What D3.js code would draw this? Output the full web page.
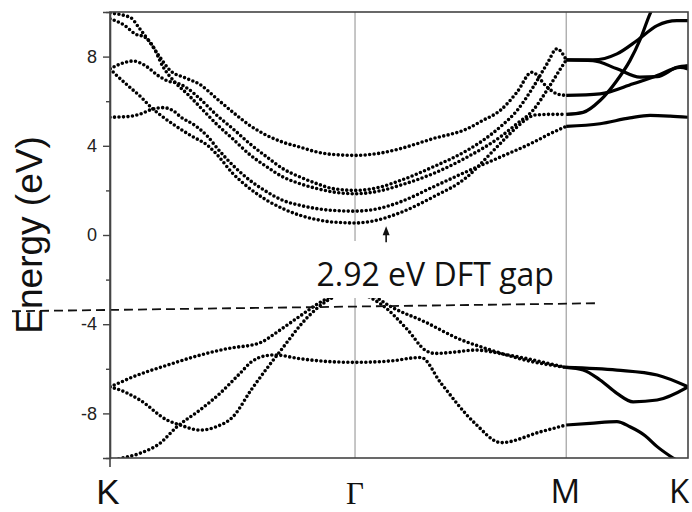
<!DOCTYPE html>
<html>
<head>
<meta charset="utf-8">
<script src="https://cdn.jsdelivr.net/npm/d3@7"></script>
<style>
  body { margin: 0; background: #fff; }
  svg { display: block; }
</style>
</head>
<body>
<div id="chart"></div>
<script>
// high-symmetry points along the k-path
const symLabels = ["K", "Γ", "M", "K"];
const symK = [0, 1, 1.862, 2.359];

// energy ticks (eV)
const yMajor = [-8, -4, 0, 4, 8];
const yMinor = [-10, -6, -2, 2, 6, 10];

// bands along K -> Γ -> M, [k, E] (dotted)
const c5 = [[0,9.95],[0.082,9.76],[0.122,9.24],[0.163,8.64],[0.204,7.97],[0.245,7.38],[0.306,7.05],[0.367,6.75],[0.437,6.1],[0.502,5.5],[0.571,4.91],[0.641,4.46],[0.706,4.16],[0.776,3.94],[0.845,3.72],[0.910,3.61],[1,3.57],[1.102,3.67],[1.184,3.87],[1.318,4.32],[1.457,4.76],[1.522,5.14],[1.592,5.58],[1.661,6.4],[1.722,7.3],[1.784,6.63],[1.824,6.33],[1.862,6.26]];
const c4 = [[0,7.45],[0.045,7.68],[0.094,7.8],[0.143,7.6],[0.196,7.15],[0.237,6.9],[0.278,6.8],[0.318,6.56],[0.367,6.11],[0.437,5.36],[0.502,4.76],[0.571,4.09],[0.641,3.49],[0.706,2.97],[0.776,2.6],[0.845,2.3],[0.910,2.08],[1,2.0],[1.102,2.15],[1.184,2.44],[1.318,3.05],[1.457,3.79],[1.522,4.24],[1.592,4.84],[1.661,5.58],[1.727,6.63],[1.784,7.68],[1.824,8.35],[1.862,7.85]];
const c3 = [[0,9.7],[0.061,9.39],[0.102,9.02],[0.143,8.87],[0.176,8.45],[0.216,7.55],[0.265,6.85],[0.318,6.3],[0.371,5.7],[0.437,4.95],[0.502,4.3],[0.571,3.6],[0.641,3.05],[0.706,2.6],[0.776,2.3],[0.845,2.08],[0.910,1.93],[1,1.85],[1.102,1.98],[1.184,2.23],[1.318,2.75],[1.457,3.49],[1.592,4.39],[1.661,4.99],[1.727,5.6],[1.784,6.5],[1.824,7.2],[1.862,7.85]];
const c2 = [[0,5.28],[0.073,5.31],[0.127,5.44],[0.167,5.62],[0.216,5.71],[0.257,5.58],[0.290,5.28],[0.347,4.91],[0.4,4.4],[0.437,3.9],[0.502,3.12],[0.571,2.45],[0.641,1.93],[0.706,1.55],[0.776,1.33],[0.845,1.18],[0.910,1.1],[1,1.07],[1.102,1.2],[1.184,1.48],[1.318,2.15],[1.457,2.85],[1.592,3.49],[1.727,4.15],[1.796,4.54],[1.862,4.87]];
const c1 = [[0,7.45],[0.020,7.23],[0.073,6.7],[0.127,6.18],[0.167,5.73],[0.208,5.36],[0.265,4.91],[0.331,4.45],[0.4,4.0],[0.437,3.6],[0.502,2.75],[0.571,2.08],[0.641,1.55],[0.706,1.18],[0.776,0.88],[0.845,0.69],[0.910,0.58],[1,0.54],[1.061,0.6],[1.127,0.78],[1.184,1.0],[1.318,1.7],[1.457,2.6],[1.539,3.49],[1.592,4.09],[1.661,4.84],[1.702,5.21],[1.735,5.38],[1.796,5.41],[1.862,5.41]];
const v1 = [[0,-6.8],[0.012,-6.75],[0.094,-6.36],[0.233,-5.84],[0.367,-5.39],[0.502,-5.05],[0.576,-4.94],[0.620,-4.8],[0.673,-4.42],[0.780,-3.6],[0.861,-3.0],[0.939,-2.6],[1,-2.5],[1.061,-2.65],[1.147,-3.22],[1.286,-3.9],[1.420,-4.64],[1.555,-5.16],[1.694,-5.61],[1.862,-5.94]];
const v2 = [[0,-6.82],[0.012,-6.85],[0.122,-7.4],[0.233,-8.3],[0.286,-8.52],[0.367,-8.75],[0.433,-8.6],[0.502,-8.15],[0.576,-6.95],[0.698,-5.16],[0.808,-3.67],[0.890,-2.92],[0.959,-2.6],[1,-2.5],[1.061,-2.8],[1.106,-3.1],[1.216,-4.27],[1.286,-5.16],[1.327,-5.31],[1.408,-5.25],[1.490,-5.16],[1.624,-5.38],[1.862,-5.94]];
const v3 = [[0,-10.15],[0.033,-10.05],[0.122,-9.79],[0.204,-9.34],[0.273,-8.6],[0.367,-7.85],[0.449,-7.1],[0.531,-6.2],[0.576,-5.7],[0.633,-5.42],[0.673,-5.38],[0.776,-5.55],[0.898,-5.68],[1,-5.71],[1.143,-5.65],[1.269,-5.49],[1.351,-6.65],[1.490,-8.45],[1.596,-9.31],[1.759,-8.82],[1.862,-8.52]];

// bands along M -> K (dense points, look solid)
const n1 = [[1.862,4.87],[2.0,4.99],[2.122,5.25],[2.204,5.36],[2.286,5.33],[2.359,5.28]];
const n2 = [[1.862,5.41],[1.931,5.5],[2.0,6.03],[2.069,6.93],[2.122,7.82],[2.163,8.75],[2.204,9.92],[2.245,10.8]];
const n3 = [[1.862,6.26],[2.0,6.33],[2.135,6.78],[2.233,7.15],[2.327,7.52],[2.359,7.45]];
const n4 = [[1.862,7.85],[1.971,7.85],[2.069,8.12],[2.151,8.72],[2.233,9.39],[2.314,9.61],[2.359,9.61]];
const n5 = [[1.862,7.85],[1.971,7.82],[2.069,7.45],[2.163,7.08],[2.233,7.1],[2.314,7.52],[2.359,7.6]];
const m1 = [[1.862,-5.94],[2.069,-6.06],[2.233,-6.28],[2.359,-6.81]];
const m2 = [[1.862,-5.94],[1.931,-6.05],[2.0,-6.5],[2.069,-7.1],[2.135,-7.48],[2.233,-7.4],[2.359,-6.81]];
const m3 = [[1.862,-8.52],[1.959,-8.45],[2.069,-8.37],[2.122,-8.6],[2.184,-9.0],[2.233,-9.49],[2.298,-10.0],[2.327,-10.2]];

const dottedBands = [c1, c2, c3, c4, c5, v1, v2, v3];
const solidBands = [n1, n2, n3, n4, n5, m1, m2, m3];

// annotation
const gapText = "2.92 eV DFT gap";
const gapLine = [[-0.4, -3.42], [1.988, -3.06]];
const arrowK = 1.127;
const arrowE = [-0.33, 0.39];

const W = 692, H = 512;
const margin = {top: 12, right: 4, bottom: 54, left: 110};

const svg = d3.select("#chart").append("svg")
    .attr("width", W)
    .attr("height", H);

const x = d3.scaleLinear().domain([symK[0], symK[3]]).range([margin.left, W - margin.right]);
const y = d3.scaleLinear().domain([-10, 10]).range([H - margin.bottom, margin.top]);

svg.append("clipPath").attr("id", "plotClip")
    .append("rect")
    .attr("x", x(symK[0])).attr("y", y(10))
    .attr("width", x(symK[3]) - x(symK[0]))
    .attr("height", y(-10) - y(10));

// Γ and M separators
svg.selectAll(".sep")
    .data(symK.slice(1, 3))
    .enter()
    .append("line")
        .attr("class", "sep")
        .attr("x1", d => x(d)).attr("x2", d => x(d))
        .attr("y1", y(10)).attr("y2", y(-10))
        .style("stroke", "#a0a0a0")
        .style("stroke-width", 1.2);

const line = d3.line()
    .x(d => x(d[0]))
    .y(d => y(d[1]))
    .curve(d3.curveMonotoneX);

const bands = svg.append("g").attr("clip-path", "url(#plotClip)");

bands.selectAll(".dotted")
    .data(dottedBands)
    .enter()
    .append("path")
        .attr("class", "dotted")
        .attr("d", line)
        .style("fill", "none")
        .style("stroke", "#000")
        .style("stroke-width", 3.6)
        .style("stroke-linecap", "round")
        .style("stroke-dasharray", "0 4.5");

bands.selectAll(".solid")
    .data(solidBands)
    .enter()
    .append("path")
        .attr("class", "solid")
        .attr("d", line)
        .style("fill", "none")
        .style("stroke", "#000")
        .style("stroke-width", 3.2);

// gap label with white box behind it
const gapG = svg.append("g");
const gapBox = gapG.append("rect").style("fill", "#fff");
const gapLabel = gapG.append("text")
    .attr("x", 316.5)
    .attr("y", 286)
    .style("font-family", "'Open Sans', sans-serif")
    .style("font-size", "32px")
    .style("fill", "#111")
    .text(gapText);
const bb = gapLabel.node().getBBox();
gapBox
    .attr("x", bb.x - 8)
    .attr("y", bb.y - 11)
    .attr("width", bb.width + 12)
    .attr("height", bb.height + 14);

// arrow to the band edge
svg.append("line")
    .attr("x1", x(arrowK)).attr("x2", x(arrowK))
    .attr("y1", y(arrowE[0])).attr("y2", y(arrowE[1]) + 6)
    .style("stroke", "#111")
    .style("stroke-width", 1.6);
svg.append("path")
    .attr("d", d3.line()([
        [x(arrowK), y(arrowE[1])],
        [x(arrowK) - 3.5, y(arrowE[1]) + 9],
        [x(arrowK) + 3.5, y(arrowE[1]) + 9]
    ]) + "Z")
    .style("fill", "#111");

// dashed line at the valence band edge
svg.append("line")
    .attr("x1", x(gapLine[0][0])).attr("y1", y(gapLine[0][1]))
    .attr("x2", x(gapLine[1][0])).attr("y2", y(gapLine[1][1]))
    .style("stroke", "#111")
    .style("stroke-width", 1.8)
    .style("stroke-dasharray", "9 5");

// frame
svg.append("rect")
    .attr("x", x(symK[0])).attr("y", y(10))
    .attr("width", x(symK[3]) - x(symK[0]))
    .attr("height", y(-10) - y(10))
    .style("fill", "none")
    .style("stroke", "#444")
    .style("stroke-width", 1.6);

// y axis
const yAxis = svg.append("g")
    .attr("transform", `translate(${margin.left},0)`)
    .call(d3.axisLeft(y).tickValues(yMajor).tickSize(7).tickPadding(6).tickFormat(d3.format("d")));
yAxis.select(".domain").style("stroke", "#444").style("stroke-width", 1.6);
yAxis.selectAll(".tick line").style("stroke", "#444").style("stroke-width", 1.4);
yAxis.selectAll("text")
    .style("font-family", "'Liberation Sans', Arial, sans-serif")
    .style("font-size", "18px")
    .style("fill", "#222")
    .text(d => d < 0 ? "-" + Math.abs(d) : d);

const yMinorAxis = svg.append("g")
    .attr("transform", `translate(${margin.left},0)`)
    .call(d3.axisLeft(y).tickValues(yMinor).tickSize(4).tickFormat(""));
yMinorAxis.select(".domain").remove();
yMinorAxis.selectAll(".tick line").style("stroke", "#444").style("stroke-width", 1.4);

// small tick below the K corner
svg.append("line")
    .attr("x1", x(symK[0])).attr("x2", x(symK[0]))
    .attr("y1", y(-10)).attr("y2", y(-10) + 9)
    .style("stroke", "#444")
    .style("stroke-width", 1.6);

svg.append("text")
    .attr("transform", `translate(42,${(y(-10) + y(10)) / 2}) rotate(-90)`)
    .attr("text-anchor", "middle")
    .style("font-family", "'Liberation Sans', Arial, sans-serif")
    .style("font-size", "37px")
    .style("fill", "#111")
    .text("Energy (eV)");

// k-point labels
const labelStyle = [
    {family: "'Liberation Sans', Arial, sans-serif", size: 35, dx: -2, base: 504, anchor: "middle"},
    {family: "'Liberation Serif', 'Times New Roman', serif", size: 31, dx: 0, base: 504, anchor: "middle"},
    {family: "'Open Sans', sans-serif", size: 33, dx: -1, base: 503, anchor: "middle"},
    {family: "'Open Sans', sans-serif", size: 33, dx: -19, base: 503, anchor: "start"}
];
svg.selectAll(".klabel")
    .data(symLabels)
    .enter()
    .append("text")
        .attr("class", "klabel")
        .attr("x", (d, i) => x(symK[i]) + labelStyle[i].dx)
        .attr("y", (d, i) => labelStyle[i].base)
        .attr("text-anchor", (d, i) => labelStyle[i].anchor)
        .style("font-family", (d, i) => labelStyle[i].family)
        .style("font-size", (d, i) => labelStyle[i].size + "px")
        .style("fill", "#111")
        .text(d => d);
</script>
</body>
</html>
